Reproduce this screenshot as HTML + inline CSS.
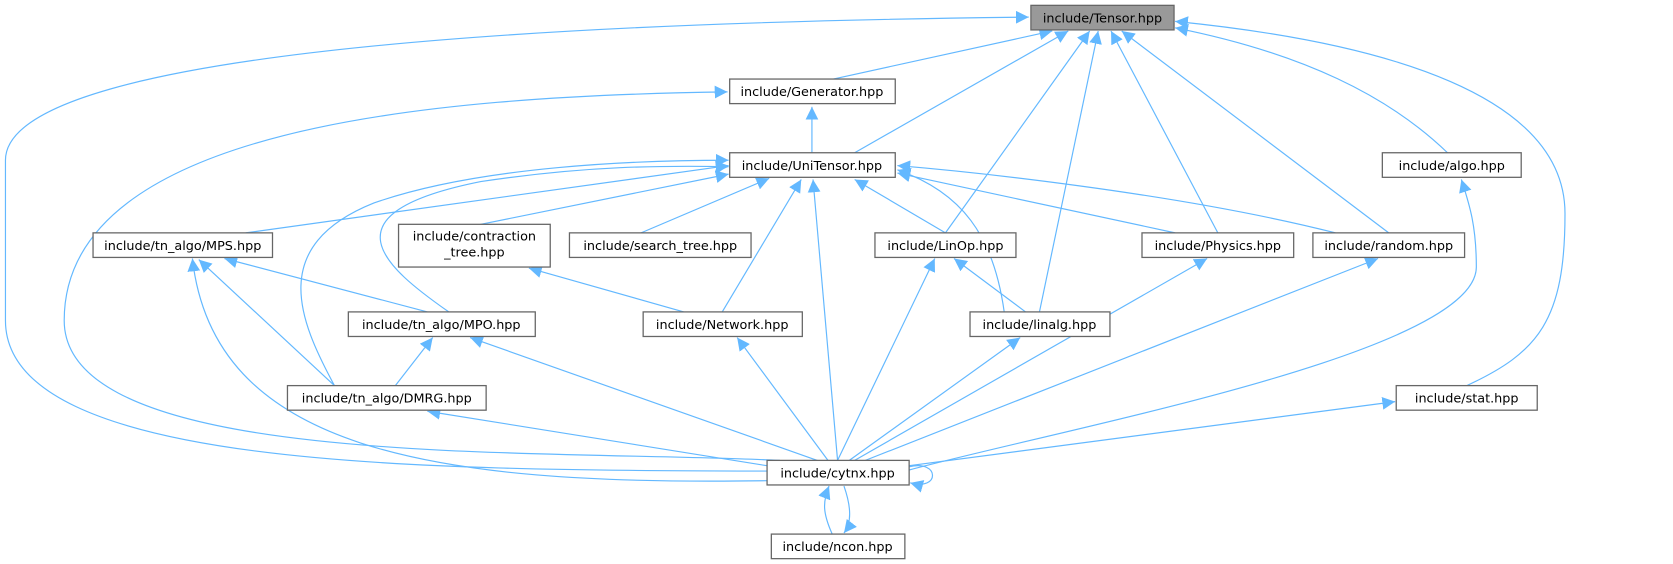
<!DOCTYPE html>
<html><head><meta charset="utf-8"><style>
html,body{margin:0;padding:0;background:#fff;}
svg{display:block;}
text{font-family:"DejaVu Sans","Liberation Sans",sans-serif;font-size:12px;fill:#000;}
.n{fill:#fff;stroke:#666;stroke-width:1.2;}
.e{fill:none;stroke:#63b8ff;stroke-width:1.1;}
</style></head><body>
<svg width="1673" height="564" viewBox="0 0 1566 528" xmlns="http://www.w3.org/2000/svg">
<defs><marker id="a" viewBox="0 0 10 10" refX="10" refY="5" markerWidth="12" markerHeight="12" markerUnits="userSpaceOnUse" orient="auto"><path d="M0,0 L10,5 L0,10 z" fill="#63b8ff"/></marker></defs>
<g class="e" marker-end="url(#a)">
<path d="M718,441 C400,440 5,440 5,300 L5,150 C5,40 600,20 963,16"/>
<path d="M780,74 L985,29"/>
<path d="M800,143 L1000,29"/>
<path d="M885,218 L1020,29"/>
<path d="M973,292 L1028,29"/>
<path d="M1140,218 L1040,29"/>
<path d="M1300,218 L1050,29"/>
<path d="M1355,143 C1300,90 1220,50 1100,26"/>
<path d="M1373,361 C1440,330 1465,300 1465,200 C1465,90 1300,40 1100,20"/>
<path d="M730,431 C500,420 60,440 60,300 C60,120 400,90 681,86"/>
<path d="M760,143 L760,100"/>
<path d="M230,218 L682,155"/>
<path d="M313,361 C280,300 250,230 350,190 C450,155 600,150 682,150"/>
<path d="M420,292 C360,250 300,200 450,170 C550,155 620,155 682,156"/>
<path d="M450,210 L682,163"/>
<path d="M600,218 L720,167"/>
<path d="M676,292 L750,168"/>
<path d="M784,431 L761,168"/>
<path d="M885,218 L800,168"/>
<path d="M1100,218 L840,162"/>
<path d="M1250,218 C1100,180 900,160 840,155"/>
<path d="M940,292 C930,220 900,180 840,159"/>
<path d="M718,450 C400,455 200,420 180,242"/>
<path d="M313,361 L186,243"/>
<path d="M400,292 L210,242"/>
<path d="M640,292 L495,251"/>
<path d="M784,431 L875,242"/>
<path d="M960,292 L893,242"/>
<path d="M800,431 L1130,242"/>
<path d="M810,431 L1290,242"/>
<path d="M851,440 C1000,400 1382,330 1382,250 C1382,210 1375,190 1368,168"/>
<path d="M851,436 L1306,376"/>
<path d="M795,431 L955,316"/>
<path d="M775,431 L690,316"/>
<path d="M765,431 L440,316"/>
<path d="M370,361 L405,316"/>
<path d="M718,436 L400,385"/>
<path d="M851,437 C880,430 880,460 852,452"/>
<path d="M779,500 C770,480 770,470 776,455"/>
<path d="M790,455 C797,475 797,490 790,499"/>
</g>
<rect x="965" y="5" width="134" height="23" fill="#999" stroke="#666" stroke-width="1.2"/><text x="1032" y="21" text-anchor="middle">include/Tensor.hpp</text>
<rect class="n" x="683" y="74" width="155" height="23"/><text x="760" y="90" text-anchor="middle">include/Generator.hpp</text>
<rect class="n" x="683" y="143" width="155" height="23"/><text x="760" y="159" text-anchor="middle">include/UniTensor.hpp</text>
<rect class="n" x="1294" y="143" width="130" height="23"/><text x="1359" y="159" text-anchor="middle">include/algo.hpp</text>
<rect class="n" x="87" y="218" width="168" height="23"/><text x="171" y="234" text-anchor="middle">include/tn_algo/MPS.hpp</text>
<rect class="n" x="373" y="210" width="142" height="40"/><text x="444" y="225" text-anchor="middle">include/contraction</text><text x="444" y="240" text-anchor="middle">_tree.hpp</text>
<rect class="n" x="533" y="218" width="170" height="23"/><text x="618" y="234" text-anchor="middle">include/search_tree.hpp</text>
<rect class="n" x="819" y="218" width="132" height="23"/><text x="885" y="234" text-anchor="middle">include/LinOp.hpp</text>
<rect class="n" x="1069" y="218" width="142" height="23"/><text x="1140" y="234" text-anchor="middle">include/Physics.hpp</text>
<rect class="n" x="1229" y="218" width="142" height="23"/><text x="1300" y="234" text-anchor="middle">include/random.hpp</text>
<rect class="n" x="326" y="292" width="175" height="23"/><text x="413" y="308" text-anchor="middle">include/tn_algo/MPO.hpp</text>
<rect class="n" x="602" y="292" width="149" height="23"/><text x="676" y="308" text-anchor="middle">include/Network.hpp</text>
<rect class="n" x="908" y="292" width="131" height="23"/><text x="973" y="308" text-anchor="middle">include/linalg.hpp</text>
<rect class="n" x="269" y="361" width="186" height="23"/><text x="362" y="377" text-anchor="middle">include/tn_algo/DMRG.hpp</text>
<rect class="n" x="1307" y="361" width="132" height="23"/><text x="1373" y="377" text-anchor="middle">include/stat.hpp</text>
<rect class="n" x="718" y="431" width="133" height="23"/><text x="784" y="447" text-anchor="middle">include/cytnx.hpp</text>
<rect class="n" x="722" y="500" width="125" height="23"/><text x="784" y="516" text-anchor="middle">include/ncon.hpp</text>
</svg>
</body></html>
